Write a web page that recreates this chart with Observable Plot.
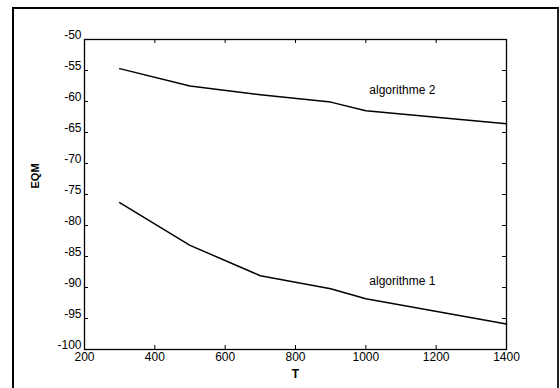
<!DOCTYPE html>
<html>
<head>
<meta charset="utf-8">
<script src="https://cdn.jsdelivr.net/npm/d3@7"></script>
<script src="https://cdn.jsdelivr.net/npm/@observablehq/plot@0.6"></script>
<style>
  html, body { margin: 0; padding: 0; background: white; }
  #wrap { position: relative; width: 560px; height: 388px; overflow: hidden; }
  #outer { position: absolute; left: 12px; top: 7px; width: 543px; height: 400px;
           border-top: 2px solid #000; border-left: 2px solid #000; border-right: 2px solid #222; }
  #chart { position: absolute; left: 0; top: 0; }
</style>
</head>
<body>
<div id="wrap"><div id="outer"></div><div id="chart"></div></div>
<script>
const T = [300, 500, 700, 900, 1000, 1400];
const alg1 = [-76.3, -83.2, -88.1, -90.2, -91.8, -95.9];
const alg2 = [-54.7, -57.5, -58.9, -60.1, -61.5, -63.6];
const xTicks = [200, 400, 600, 800, 1000, 1200, 1400];
const yTicks = [-100, -95, -90, -85, -80, -75, -70, -65, -60, -55, -50];
const seriesNames = ["algorithme 1", "algorithme 2"];
const labelPos = [{x: 1010, y: -88.9}, {x: 1010, y: -58.2}];
const xLabel = "T";
const yLabel = "EQM";

const rows = [
  ...T.map((t, i) => ({T: t, v: alg1[i], s: seriesNames[0]})),
  ...T.map((t, i) => ({T: t, v: alg2[i], s: seriesNames[1]}))
];
const labels = seriesNames.map((n, i) => ({...labelPos[i], name: n}));

const W = 560, H = 388, mL = 84, mR = 54, mT = 39, mB = 39;
const fw = W - mL - mR, fh = H - mT - mB, tk = 4;
const fmt = d => String(d);

const chart = Plot.plot({
  width: W,
  height: H,
  marginLeft: mL,
  marginRight: mR,
  marginTop: mT,
  marginBottom: mB,
  style: {fontFamily: "'Liberation Sans', Arial, sans-serif", fontSize: "12px", color: "black", background: "transparent"},
  x: {domain: [200, 1400]},
  y: {domain: [-100, -50]},
  marks: [
    Plot.frame({stroke: "black", strokeWidth: 1.3}),
    // inward ticks on all four sides
    Plot.tickY(yTicks, {y: d => d, stroke: "black", insetRight: fw - tk}),
    Plot.tickY(yTicks, {y: d => d, stroke: "black", insetLeft: fw - tk}),
    Plot.tickX(xTicks, {x: d => d, stroke: "black", insetTop: fh - tk}),
    Plot.tickX(xTicks, {x: d => d, stroke: "black", insetBottom: fh - tk}),
    Plot.axisX({ticks: xTicks, tickSize: 0, tickPadding: 3, tickFormat: fmt, label: null, anchor: "bottom", fontSize: 12}),
    Plot.axisY({ticks: yTicks, tickSize: 0, tickPadding: 3, tickFormat: fmt, label: null, anchor: "left", fontSize: 12, dy: -4}),
    Plot.line(rows, {x: "T", y: "v", z: "s", stroke: "black", strokeWidth: 1.5}),
    Plot.text(labels, {x: "x", y: "y", text: "name", textAnchor: "start", fontSize: 12}),
    Plot.text([xLabel], {frameAnchor: "bottom", dy: 28, fontWeight: "bold", fontSize: 12}),
    Plot.text([yLabel], {frameAnchor: "left", dx: -49, dy: -6, rotate: -90, fontWeight: "bold", fontSize: 11})
  ]
});
document.getElementById("chart").appendChild(chart);
</script>
</body>
</html>
